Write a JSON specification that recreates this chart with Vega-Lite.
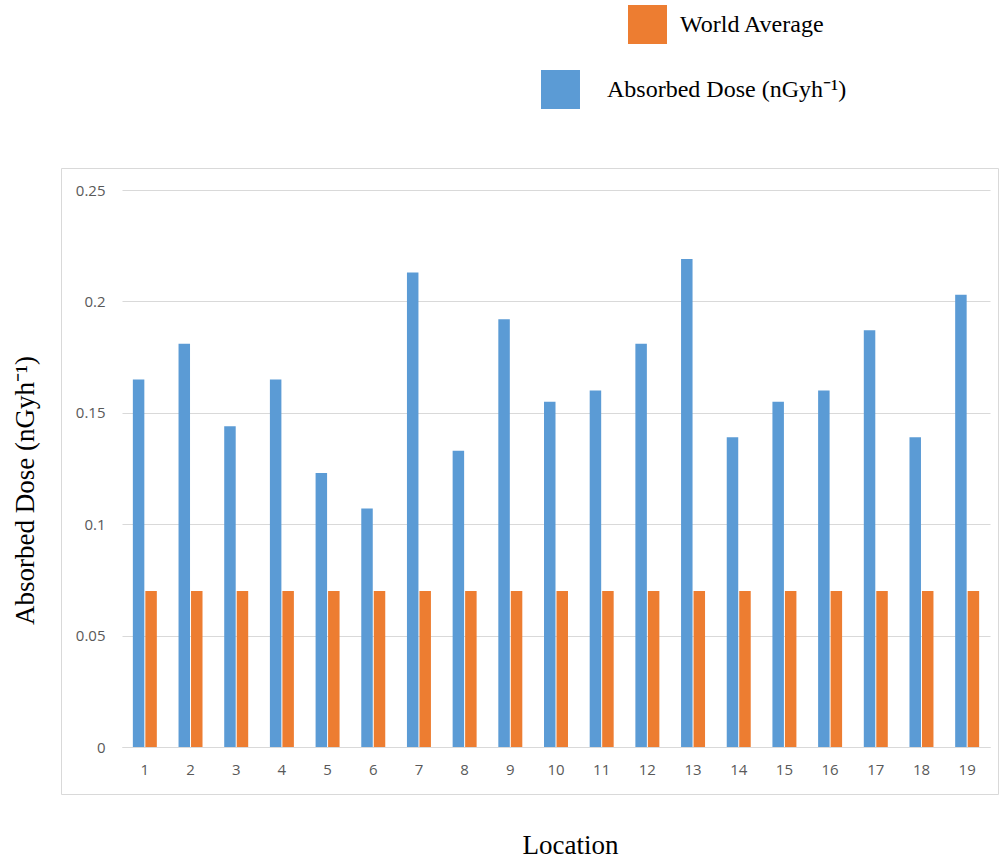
{
  "$schema": "https://vega.github.io/schema/vega-lite/v6.json",
  "autosize": "none",
  "width": 937,
  "height": 626,
  "padding": {"left": 61, "top": 168, "right": 2, "bottom": 65},
  "background": "white",
  "config": {
    "view": {"stroke": "#d9d9d9", "strokeWidth": 1},
    "axis": {"labelFont": "Open Sans", "labelFontSize": 15, "labelColor": "#595959", "titleFont": "Liberation Serif", "titleFontWeight": "normal", "titleColor": "#000000", "titleFontSize": 27},
    "legend": {"labelFont": "Liberation Serif", "labelFontSize": 24, "labelColor": "#000000", "padding": 0, "labelLimit": 0}
  },
  "data": {
    "values": [
      {"loc": 1, "series": "Absorbed Dose", "value": 0.165}, {"loc": 1, "series": "World Average", "value": 0.07},
      {"loc": 2, "series": "Absorbed Dose", "value": 0.181}, {"loc": 2, "series": "World Average", "value": 0.07},
      {"loc": 3, "series": "Absorbed Dose", "value": 0.144}, {"loc": 3, "series": "World Average", "value": 0.07},
      {"loc": 4, "series": "Absorbed Dose", "value": 0.165}, {"loc": 4, "series": "World Average", "value": 0.07},
      {"loc": 5, "series": "Absorbed Dose", "value": 0.123}, {"loc": 5, "series": "World Average", "value": 0.07},
      {"loc": 6, "series": "Absorbed Dose", "value": 0.107}, {"loc": 6, "series": "World Average", "value": 0.07},
      {"loc": 7, "series": "Absorbed Dose", "value": 0.213}, {"loc": 7, "series": "World Average", "value": 0.07},
      {"loc": 8, "series": "Absorbed Dose", "value": 0.133}, {"loc": 8, "series": "World Average", "value": 0.07},
      {"loc": 9, "series": "Absorbed Dose", "value": 0.192}, {"loc": 9, "series": "World Average", "value": 0.07},
      {"loc": 10, "series": "Absorbed Dose", "value": 0.155}, {"loc": 10, "series": "World Average", "value": 0.07},
      {"loc": 11, "series": "Absorbed Dose", "value": 0.160}, {"loc": 11, "series": "World Average", "value": 0.07},
      {"loc": 12, "series": "Absorbed Dose", "value": 0.181}, {"loc": 12, "series": "World Average", "value": 0.07},
      {"loc": 13, "series": "Absorbed Dose", "value": 0.219}, {"loc": 13, "series": "World Average", "value": 0.07},
      {"loc": 14, "series": "Absorbed Dose", "value": 0.139}, {"loc": 14, "series": "World Average", "value": 0.07},
      {"loc": 15, "series": "Absorbed Dose", "value": 0.155}, {"loc": 15, "series": "World Average", "value": 0.07},
      {"loc": 16, "series": "Absorbed Dose", "value": 0.160}, {"loc": 16, "series": "World Average", "value": 0.07},
      {"loc": 17, "series": "Absorbed Dose", "value": 0.187}, {"loc": 17, "series": "World Average", "value": 0.07},
      {"loc": 18, "series": "Absorbed Dose", "value": 0.139}, {"loc": 18, "series": "World Average", "value": 0.07},
      {"loc": 19, "series": "Absorbed Dose", "value": 0.203}, {"loc": 19, "series": "World Average", "value": 0.07}
    ]
  },
  "encoding": {
    "x": {
      "field": "loc", "type": "ordinal",
      "scale": {"range": [61, 929], "paddingInner": 0.475, "paddingOuter": 0.2375},
      "axis": {
        "title": "Location", "offset": -47, "labelAngle": 0, "ticks": false, "labelPadding": 15,
        "domainColor": "#d9d9d9", "grid": false,
        "titleX": 509, "titleY": 98, "titleBaseline": "middle", "titleAnchor": "start", "titleAlign": "center"
      }
    },
    "xOffset": {"field": "series", "type": "nominal", "scale": {"domain": ["Absorbed Dose", "World Average"], "paddingInner": 0.08}},
    "y": {
      "field": "value", "type": "quantitative",
      "scale": {"domain": [0, 0.25], "range": [579, 22], "nice": false, "zero": true},
      "axis": {
        "title": "Absorbed Dose (nGyh⁻¹)", "offset": -61, "values": [0, 0.05, 0.1, 0.15, 0.2, 0.25], "format": "~g",
        "ticks": false, "domain": false, "labelPadding": 17, "gridColor": "#d9d9d9", "grid": true,
        "titleX": -97, "titleY": 322, "titleAngle": -90, "titleBaseline": "middle", "titleAlign": "center", "titleAnchor": "start"
      }
    }
  },
  "layer": [
    {
      "transform": [{"filter": "datum.series === 'Absorbed Dose'"}],
      "mark": {"type": "bar"},
      "encoding": {
        "color": {
          "field": "series", "type": "nominal",
          "scale": {"domain": ["Absorbed Dose"], "range": ["#5b9bd5"]},
          "legend": {"title": null, "orient": "none", "legendX": 480, "legendY": -98, "symbolType": "square", "symbolSize": 1520, "symbolStrokeWidth": 0, "labelOffset": 27, "labelExpr": "'Absorbed Dose (nGyh⁻¹)'"}
        }
      }
    },
    {
      "transform": [{"filter": "datum.series === 'World Average'"}],
      "mark": {"type": "bar"},
      "encoding": {
        "color": {
          "field": "series", "type": "nominal",
          "scale": {"domain": ["World Average"], "range": ["#ed7d31"]},
          "legend": {"title": null, "orient": "none", "legendX": 567, "legendY": -163, "symbolType": "square", "symbolSize": 1520, "symbolStrokeWidth": 0, "labelOffset": 13}
        }
      }
    }
  ],
  "resolve": {"scale": {"color": "independent"}, "legend": {"color": "independent"}}
}
